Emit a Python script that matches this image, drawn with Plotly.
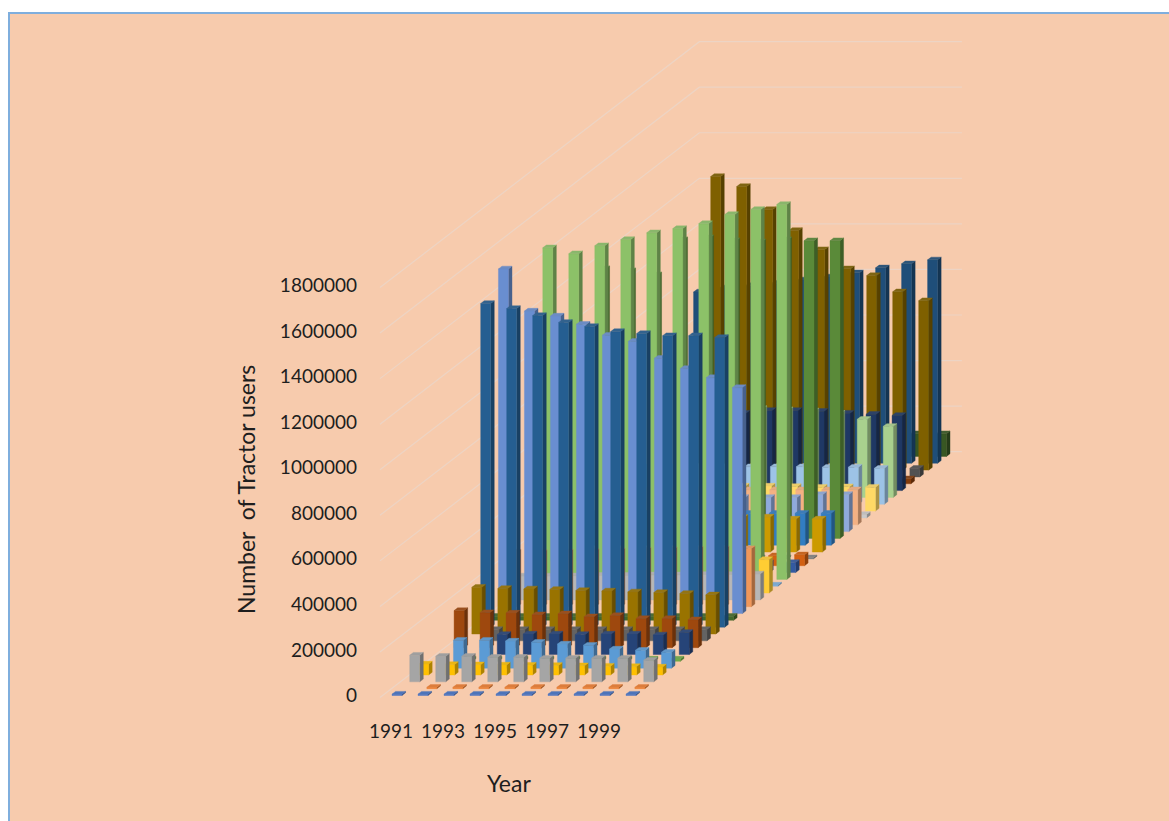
import plotly.graph_objects as go

# Survey years and axis labels
years = [1991, 1992, 1993, 1994, 1995, 1996, 1997, 1998, 1999, 2000]
year_ticks = [1991, 1993, 1995, 1997, 1999]
value_ticks = [0, 200000, 400000, 600000, 800000, 1000000, 1200000, 1400000, 1600000, 1800000]

# Tractor users per region, nearest row first; None means no figure for that year
series_00 = [6000, 6000, 6000, 6000, 6000, 6000, 6000, 6000, 6000, 6000]
series_01 = [None, 6000, 6000, 6000, 6000, 6000, 6000, 6000, 6000, 6000]
series_02 = [117000, 112000, 112000, 108000, 108000, 104000, 104000, 104000, 104000, 95000]
series_03 = [48000, 46000, 45000, 44000, 43000, 42000, 41000, 39000, 37000, 35000]
series_04 = [None, 123000, 123000, 119000, 114000, 106000, 101000, 84000, 79000, 70000]
series_05 = [None, 10000, 10000, 10000, 10000, 10000, 10000, 10000, 10000, 10000]
series_06 = [None, None, 88000, 90000, 90000, 88000, 90000, 90000, 86000, 97000]
series_07 = [163000, 154000, 152000, 145000, 149000, 136000, 141000, 128000, 128000, 123000]
series_08 = [None, 50000, 50000, 50000, 50000, 50000, 50000, 50000, 50000, 50000]
series_09 = [205000, 200000, 198000, 196000, 191000, 189000, 185000, 182000, 178000, 172000]
series_10 = [1421000, 1399000, 1368000, 1338000, 1320000, 1298000, 1289000, 1280000, 1280000, 1272000]
series_11 = [18000, 18000, 18000, 18000, 18000, 18000, 18000, 18000, 18000, 18000]
series_12 = [1513000, 1328000, 1306000, 1270000, 1222000, 1195000, 1121000, 1076000, 1036000, 992000]
series_13 = [240000, 238000, 240000, 242000, 245000, 248000, 250000, 252000, 254000, 255000]
series_14 = [105000, 105000, 106000, 108000, 108000, 110000, 110000, 112000, 112000, 114000]
series_15 = [140000, 140000, 142000, 142000, 144000, 145000, 145000, 146000, 147000, 147000]
series_16 = [5000, 5000, 5000, 5000, 5000, 5000, 5000, 5000, 5000, 5000]
series_17 = [1456000, 1430000, 1465000, 1492000, 1522000, 1540000, 1562000, 1602000, 1624000, 1646000]
series_18 = [40000, 40000, 40000, 41000, 41000, 42000, 42000, 43000, 43000, 44000]
series_19 = [45000, 45000, 45000, 45000, 45000, 45000, 45000, 45000, 44000, 48000]
series_20 = [5000, 5000, 5000, 5000, 5000, 5000, 5000, 5000, 5000, 5000]
series_21 = [150000, 150000, 150000, 150000, 152000, 152000, 152000, 154000, 145000, 145000]
series_22 = [140000, 140000, 140000, 140000, 140000, 140000, 140000, 140000, 140000, 140000]
series_23 = [1184000, 1175000, 1157000, 1311000, 1320000, 1307000, 1302000, 1311000, 1307000, 1307000]
series_24 = [150000, 150000, 150000, 150000, 150000, 150000, 150000, 150000, 163000, 163000]
series_25 = [154000, 154000, 154000, 154000, 154000, 154000, 154000, 154000, 154000, 154000]
series_26 = [15000, 15000, 15000, 15000, 15000, 15000, 15000, 15000, 15000, 15000]
series_27 = [110000, 110000, 110000, 110000, 110000, 110000, 108000, 105000, 107000, 105000]
series_28 = [165000, 165000, 165000, 165000, 165000, 165000, 165000, 163000, 163000, 158000]
series_29 = [400000, 400000, 395000, 395000, 390000, 385000, 380000, 370000, 343000, 312000]
series_30 = [300000, 310000, 320000, 340000, 352000, 352000, 348000, 340000, 335000, 330000]
series_31 = [22000, 22000, 22000, 22000, 22000, 22000, 22000, 22000, 22000, 22000]
series_32 = [38000, 38000, 38000, 38000, 38000, 38000, 38000, 38000, 38000, 38000]
series_33 = [None, 1289000, 1245000, 1144000, 1052000, 968000, 884000, 854000, 783000, 744000]
series_34 = [752000, 770000, 780000, 790000, 805000, 818000, 836000, 858000, 876000, 893000]
series_35 = [100000, 100000, 100000, 100000, 100000, 100000, 100000, 100000, 100000, 100000]

series = [
    series_00, series_01, series_02, series_03, series_04, series_05,
    series_06, series_07, series_08, series_09, series_10, series_11,
    series_12, series_13, series_14, series_15, series_16, series_17,
    series_18, series_19, series_20, series_21, series_22, series_23,
    series_24, series_25, series_26, series_27, series_28, series_29,
    series_30, series_31, series_32, series_33, series_34, series_35,
]

series_colors = [
    "#4472C4", "#ED7D31", "#A5A5A5", "#FFC000", "#5B9BD5", "#70AD47",
    "#264478", "#9E480E", "#636363", "#997300", "#255E91", "#43682B",
    "#698ED0", "#F1975A", "#B7B7B7", "#FFCD33", "#7CAFDD", "#8CC168",
    "#335AA1", "#D26012", "#848484", "#CC9A00", "#327DC2", "#5A8A39",
    "#8FAADC", "#F4B183", "#C9C9C9", "#FFD966", "#9DC3E6", "#A9D18E",
    "#1F3864", "#843C0C", "#525252", "#7F6000", "#1F4E79", "#385723",
]

# Page geometry, in pixels
WIDTH, HEIGHT = 1169, 821
LEFT, TOP = 9, 13
PX_PER_YEAR = 26.0
VALUE_PER_PX = 4390.0
YEAR_1991_PX = 391.0
ZERO_PX = 695.5


def year_at(px):
    return 1991 + (px - YEAR_1991_PX) / PX_PER_YEAR


def value_at(py):
    return (ZERO_PX - py) * VALUE_PER_PX


# Oblique depth: each series row moves right and up in axis units
ROW_DX = 8.87 / PX_PER_YEAR
ROW_DY = 6.83 * VALUE_PER_PX
BAR_OFFSET = 1.0 / PX_PER_YEAR
BAR_WIDTH = 10.0 / PX_PER_YEAR
BAR_DEPTH = 0.4
WALL_LEFT = year_at(382.66)
WALL_SPAN = 10.1
WALL_FRONT = -0.3
WALL_BACK = 35.7


def project(x, row, value):
    return x + row * ROW_DX, value + row * ROW_DY


def shade(color, factor):
    channels = [int(color[k:k + 2], 16) for k in (1, 3, 5)]
    return "rgb({:.0f},{:.0f},{:.0f})".format(*[c * factor for c in channels])


def soften(color, amount=0.15, toward=128):
    channels = [int(color[k:k + 2], 16) for k in (1, 3, 5)]
    mixed = [c + (toward - c) * amount for c in channels]
    return "rgb({:.0f},{:.0f},{:.0f})".format(*mixed)


def add_polygons(fig, polygons, color):
    xs, ys = [], []
    for polygon in polygons:
        for px, py in polygon:
            xs.append(px)
            ys.append(py)
        xs.append(polygon[0][0])
        ys.append(polygon[0][1])
        xs.append(None)
        ys.append(None)
    fig.add_trace(go.Scatter(
        x=xs, y=ys, mode="lines", fill="toself", fillcolor=color,
        line=dict(color=color, width=0.4), hoverinfo="skip", showlegend=False,
    ))


fig = go.Figure()

# Gridlines on the left and back walls
grid_x, grid_y = [], []
for tick in value_ticks:
    for x, row in ((WALL_LEFT, WALL_FRONT), (WALL_LEFT, WALL_BACK), (WALL_LEFT + WALL_SPAN, WALL_BACK)):
        px, py = project(x, row, tick)
        grid_x.append(px)
        grid_y.append(py)
    grid_x.append(None)
    grid_y.append(None)
fig.add_trace(go.Scatter(
    x=grid_x, y=grid_y, mode="lines",
    line=dict(color="#EDD4C4", width=1.2), hoverinfo="skip", showlegend=False,
))

# Bars are painted from the back row to the front row
for row in range(len(series) - 1, -1, -1):
    fronts, sides, tops = [], [], []
    for year, value in zip(years, series[row]):
        if value is None:
            continue
        x0 = year + BAR_OFFSET
        x1 = x0 + BAR_WIDTH
        r0, r1 = row, row + BAR_DEPTH
        fronts.append([project(x0, r0, 0), project(x1, r0, 0),
                       project(x1, r0, value), project(x0, r0, value)])
        sides.append([project(x1, r0, 0), project(x1, r1, 0),
                      project(x1, r1, value), project(x1, r0, value)])
        tops.append([project(x0, r0, value), project(x1, r0, value),
                     project(x1, r1, value), project(x0, r1, value)])
    color = series_colors[row]
    add_polygons(fig, sides, shade(color, 0.68))
    add_polygons(fig, fronts, color)
    add_polygons(fig, tops, soften(color))

tick_font = dict(family="Lato, Calibri, sans-serif", size=19, color="#1E1E1E")
title_font = dict(family="Lato, Calibri, sans-serif", size=23, color="#1E1E1E")
plot_w = WIDTH - LEFT
plot_h = HEIGHT - TOP

fig.update_layout(
    width=WIDTH,
    height=HEIGHT,
    margin=dict(l=LEFT, r=0, t=TOP, b=0, autoexpand=False),
    paper_bgcolor="#FFFFFF",
    plot_bgcolor="#F7CBAD",
    showlegend=False,
    xaxis=dict(
        range=[year_at(LEFT), year_at(WIDTH)],
        tickmode="array",
        tickvals=year_ticks,
        ticktext=[str(y) for y in year_ticks],
        tickfont=tick_font,
        ticks="",
        showgrid=False,
        zeroline=False,
        showline=False,
        anchor="free",
        position=(HEIGHT - 718) / plot_h,
        fixedrange=True,
    ),
    yaxis=dict(
        range=[value_at(HEIGHT), value_at(TOP)],
        tickmode="array",
        tickvals=value_ticks,
        ticktext=[str(v) for v in value_ticks],
        tickfont=tick_font,
        ticks="",
        showgrid=False,
        zeroline=False,
        showline=False,
        anchor="free",
        position=(357 - LEFT) / plot_w,
        fixedrange=True,
    ),
    annotations=[
        dict(text="Year", xref="paper", yref="paper",
             x=(509 - LEFT) / plot_w, y=(HEIGHT - 783) / plot_h,
             xanchor="center", yanchor="middle", showarrow=False, font=title_font),
        dict(text="Number  of Tractor users", xref="paper", yref="paper",
             x=(246 - LEFT) / plot_w, y=(HEIGHT - 490) / plot_h,
             xanchor="center", yanchor="middle", showarrow=False,
             textangle=-90, font=title_font),
    ],
    shapes=[
        dict(type="rect", xref="paper", yref="paper",
             x0=0, x1=1.02, y0=-0.02, y1=1,
             line=dict(color="#7FAEDD", width=2), fillcolor="rgba(0,0,0,0)"),
    ],
)

fig.write_html("out.html", config=dict(displayModeBar=False))
